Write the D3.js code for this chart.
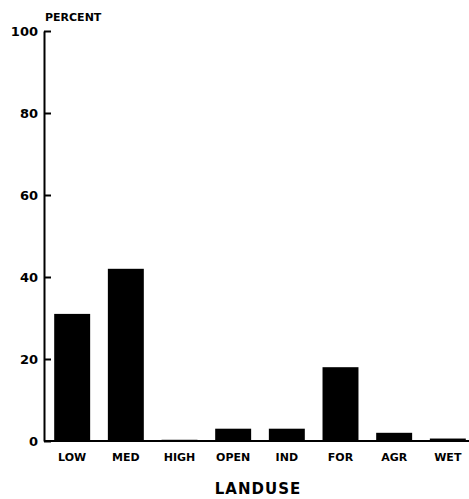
<!DOCTYPE html>
<html>
<head>
<meta charset="utf-8">
<script src="https://cdn.jsdelivr.net/npm/d3@7/dist/d3.min.js"></script>
<style>
  body { margin: 0; background: #fff; }
  text { font-family: "DejaVu Sans", sans-serif; font-weight: bold; fill: #000; }
</style>
</head>
<body>
<div id="chart"></div>
<script>
var landuse = ["LOW", "MED", "HIGH", "OPEN", "IND", "FOR", "AGR", "WET"];
var percent = [31, 42, 0.3, 3, 3, 18, 2, 0.6];
var yTicks = [0, 20, 40, 60, 80, 100];

var width = 469, height = 499;
var plotLeft = 44, plotTop = 31, plotBottom = 441;

var svg = d3.select("#chart").append("svg")
	.attr("width", width)
	.attr("height", height);

var y = d3.scaleLinear().domain([0, 100]).range([plotBottom, plotTop]);
var x = d3.scaleBand().domain(landuse)
	.range([plotLeft, 476])
	.paddingInner(0.33)
	.paddingOuter(0.19);

// bars
svg.selectAll("rect.bar")
	.data(percent)
	.enter().append("rect")
	.attr("class", "bar")
	.attr("x", function(d, i) { return x(landuse[i]); })
	.attr("width", x.bandwidth())
	.attr("y", function(d) { return y(d); })
	.attr("height", function(d) { return plotBottom - y(d); })
	.attr("fill", "#000");

// baseline
svg.append("line")
	.attr("x1", plotLeft).attr("x2", width)
	.attr("y1", plotBottom).attr("y2", plotBottom)
	.attr("stroke", "#000")
	.attr("stroke-width", 2);

// y axis, ticks pointing inward
var yAxis = svg.append("g")
	.attr("transform", "translate(" + plotLeft + ",0)")
	.call(d3.axisLeft(y).tickValues(yTicks).tickSizeInner(-7).tickSizeOuter(0).tickPadding(6));
yAxis.select(".domain").attr("stroke-width", 2);
yAxis.selectAll(".tick line").attr("stroke-width", 2);
yAxis.selectAll(".tick text")
	.attr("font-size", 13)
	.style("font-family", "DejaVu Sans")
	.style("font-weight", "bold");

// x labels
svg.selectAll("text.xlab")
	.data(landuse)
	.enter().append("text")
	.attr("class", "xlab")
	.attr("x", function(d) { return x(d) + x.bandwidth() / 2; })
	.attr("y", 461)
	.attr("text-anchor", "middle")
	.attr("font-size", 11)
	.text(function(d) { return d; });

svg.append("text")
	.attr("x", 45)
	.attr("y", 21)
	.attr("font-size", 11)
	.text("PERCENT");

svg.append("text")
	.attr("x", 258)
	.attr("y", 494)
	.attr("text-anchor", "middle")
	.attr("font-size", 15)
	.attr("letter-spacing", 1)
	.text("LANDUSE");
</script>
</body>
</html>
